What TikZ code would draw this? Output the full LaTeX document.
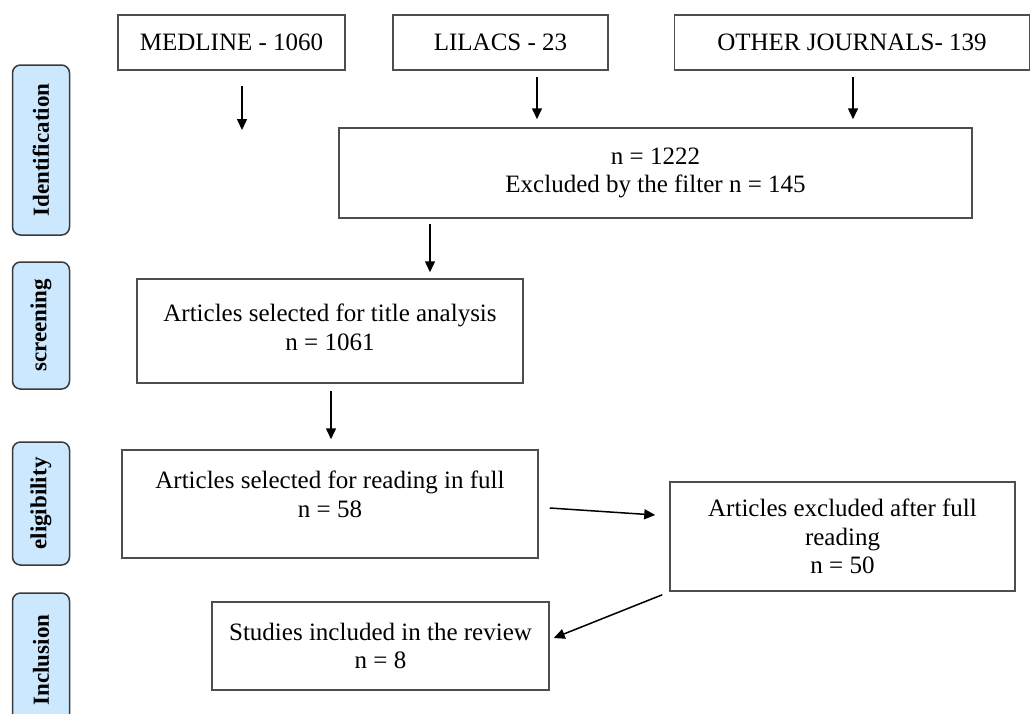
\documentclass[tikz,border=0pt]{standalone}
\usepackage{fontspec}
\setmainfont{Liberation Serif}
\usepackage{xcolor}
\usepackage{tikz}
\usetikzlibrary{arrows.meta,positioning}
\definecolor{boxgray}{HTML}{4D4D4D}
\definecolor{stageblue}{HTML}{CCE8FF}
\definecolor{stageedge}{HTML}{3A3A3A}
\tikzset{
  box/.style={draw=boxgray, line width=1.5pt, inner sep=0pt, align=center, font=\fontsize{25}{28.5}\selectfont},
  stage/.style={draw=stageedge, line width=1.5pt, fill=stageblue, rounded corners=8pt, rotate=90, inner sep=0pt, minimum height=57pt, font=\fontsize{23}{26}\selectfont\bfseries},
  line/.style={-{Triangle[length=11pt,width=10pt]}, line width=1.5pt, draw=black}
}

\begin{document}
\begin{tikzpicture}[x=1pt,y=-1pt]
  \useasboundingbox (0,0) rectangle (1032,713);

  \node[stage, minimum width=170pt] (ident) at (41,150) {Identification};
  \node[stage, minimum width=127pt] (screen) at (41,325.5) {screening};
  \node[stage, minimum width=123pt] (elig) at (41,503.5) {eligibility};
  \node[stage, minimum width=134pt] (inclu) at (41,660) {Inclusion};

  \node[box, minimum width=227pt, minimum height=55pt] (medline) at (231.5,42.5) {MEDLINE - 1060};
  \node[box, minimum width=215pt, minimum height=55pt] (lilacs) at (500.5,42.5) {LILACS - 23};
  \node[box, minimum width=355pt, minimum height=55pt] (others) at (852,42.5) {OTHER JOURNALS- 139};
  \node[box, minimum width=633pt, minimum height=90pt] (total) at (655.5,173) {n = 1222\\Excluded by the filter n = 145};
  \node[box, minimum width=386pt, minimum height=104pt, text depth=8pt] (title) at (330,331) {Articles selected for title analysis\\n = 1061};
  \node[box, minimum width=416pt, minimum height=108pt, text depth=20pt] (read) at (330,504) {Articles selected for reading in full\\n = 58};
  \node[box, minimum width=345pt, minimum height=109pt] (excl) at (842.5,536.5) {Articles excluded after full\\reading\\n = 50};
  \node[box, minimum width=337pt, minimum height=88pt] (incl) at (380.5,646) {Studies included in the review\\n = 8};

  \coordinate (medend) at (242,130);

  \draw[line] ([xshift=10.5pt,yshift=-15pt]medline.south) -- (medend);
  \draw[line] ([xshift=36.5pt,yshift=-6pt]lilacs.south) -- ([xshift=-118.5pt,yshift=8pt]total.north);
  \draw[line] ([xshift=1pt,yshift=-6pt]others.south) -- ([xshift=197.5pt,yshift=8pt]total.north);
  \draw[line] ([xshift=-225.5pt,yshift=-5pt]total.south) -- ([xshift=100pt,yshift=6pt]title.north);
  \draw[line] ([xshift=1pt,yshift=-7pt]title.south) -- ([xshift=1pt,yshift=10pt]read.north);
  \draw[line] ([xshift=11pt,yshift=-4pt]read.east) -- ([xshift=-14pt,yshift=21.5pt]excl.west);
  \draw[line] ([xshift=-7pt,yshift=-3pt]excl.south west) -- ([xshift=4pt,yshift=8pt]incl.east);
\end{tikzpicture}
\end{document}
